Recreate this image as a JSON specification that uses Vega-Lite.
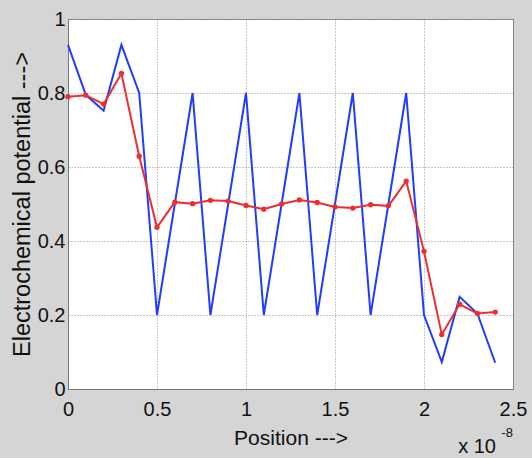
{
  "$schema": "https://vega.github.io/schema/vega-lite/v6.json",
  "autosize": "none",
  "padding": {"left": 68, "top": 19, "right": 19, "bottom": 69},
  "width": 445,
  "height": 370,
  "background": "#d5d5d5",
  "config": {
    "font": "Liberation Sans",
    "view": {"fill": "white", "stroke": "#8a8a8a", "strokeWidth": 1},
    "axis": {
      "labelFont": "Liberation Sans",
      "titleFont": "Liberation Sans",
      "labelFontSize": 20,
      "titleFontSize": 21,
      "titleFontWeight": "normal",
      "labelColor": "#111",
      "titleColor": "#111",
      "gridColor": "#777",
      "gridDash": [1, 2],
      "gridOpacity": 0.8,
      "domainColor": "#777",
      "tickColor": "#777",
      "ticks": false,
      "labelOverlap": false,
      "labelBound": false,
      "labelFlush": false
    }
  },
  "datasets": {
    "lines": [
      {"x": 0.0, "v": 0.93, "s": "blue"},
      {"x": 0.1, "v": 0.795, "s": "blue"},
      {"x": 0.2, "v": 0.752, "s": "blue"},
      {"x": 0.3, "v": 0.93, "s": "blue"},
      {"x": 0.4, "v": 0.80, "s": "blue"},
      {"x": 0.5, "v": 0.20, "s": "blue"},
      {"x": 0.6, "v": 0.50, "s": "blue"},
      {"x": 0.7, "v": 0.80, "s": "blue"},
      {"x": 0.8, "v": 0.20, "s": "blue"},
      {"x": 0.9, "v": 0.50, "s": "blue"},
      {"x": 1.0, "v": 0.80, "s": "blue"},
      {"x": 1.1, "v": 0.20, "s": "blue"},
      {"x": 1.2, "v": 0.50, "s": "blue"},
      {"x": 1.3, "v": 0.80, "s": "blue"},
      {"x": 1.4, "v": 0.20, "s": "blue"},
      {"x": 1.5, "v": 0.50, "s": "blue"},
      {"x": 1.6, "v": 0.80, "s": "blue"},
      {"x": 1.7, "v": 0.20, "s": "blue"},
      {"x": 1.8, "v": 0.50, "s": "blue"},
      {"x": 1.9, "v": 0.80, "s": "blue"},
      {"x": 2.0, "v": 0.20, "s": "blue"},
      {"x": 2.1, "v": 0.073, "s": "blue"},
      {"x": 2.2, "v": 0.249, "s": "blue"},
      {"x": 2.3, "v": 0.204, "s": "blue"},
      {"x": 2.4, "v": 0.071, "s": "blue"},
      {"x": 0.0, "v": 0.79, "s": "red"},
      {"x": 0.1, "v": 0.794, "s": "red"},
      {"x": 0.2, "v": 0.77, "s": "red"},
      {"x": 0.3, "v": 0.853, "s": "red"},
      {"x": 0.4, "v": 0.629, "s": "red"},
      {"x": 0.5, "v": 0.437, "s": "red"},
      {"x": 0.6, "v": 0.505, "s": "red"},
      {"x": 0.7, "v": 0.501, "s": "red"},
      {"x": 0.8, "v": 0.51, "s": "red"},
      {"x": 0.9, "v": 0.508, "s": "red"},
      {"x": 1.0, "v": 0.496, "s": "red"},
      {"x": 1.1, "v": 0.486, "s": "red"},
      {"x": 1.2, "v": 0.50, "s": "red"},
      {"x": 1.3, "v": 0.511, "s": "red"},
      {"x": 1.4, "v": 0.504, "s": "red"},
      {"x": 1.5, "v": 0.492, "s": "red"},
      {"x": 1.6, "v": 0.489, "s": "red"},
      {"x": 1.7, "v": 0.498, "s": "red"},
      {"x": 1.8, "v": 0.495, "s": "red"},
      {"x": 1.9, "v": 0.562, "s": "red"},
      {"x": 2.0, "v": 0.372, "s": "red"},
      {"x": 2.1, "v": 0.147, "s": "red"},
      {"x": 2.2, "v": 0.229, "s": "red"},
      {"x": 2.3, "v": 0.204, "s": "red"},
      {"x": 2.4, "v": 0.208, "s": "red"}
    ],
    "notes": [
      {"x": 2.5, "v": 0, "t": "x 10", "k": "base"},
      {"x": 2.5, "v": 0, "t": "-8", "k": "exp"}
    ]
  },
  "data": {"name": "lines"},
  "encoding": {
    "x": {
      "field": "x", "type": "quantitative",
      "scale": {"domain": [0, 2.5], "nice": false, "zero": false},
      "axis": {"values": [0, 0.5, 1, 1.5, 2, 2.5], "format": "~g", "title": "Position --->", "labelPadding": 10, "titlePadding": 8}
    },
    "y": {
      "field": "v", "type": "quantitative",
      "scale": {"domain": [0, 1], "nice": false},
      "axis": {"values": [0, 0.2, 0.4, 0.6, 0.8, 1], "format": "~g", "title": "Electrochemical potential --->", "titleFontSize": 23.5, "labelPadding": 3, "titlePadding": 3}
    }
  },
  "layer": [
    {
      "transform": [{"filter": "datum.s === 'blue'"}],
      "mark": {"type": "line", "color": "#1f3cff", "strokeWidth": 2}
    },
    {
      "transform": [{"filter": "datum.s === 'red'"}],
      "mark": {"type": "line", "color": "#ee2e2e", "strokeWidth": 2}
    },
    {
      "transform": [{"filter": "datum.s === 'red'"}],
      "mark": {"type": "point", "filled": true, "color": "#ee2e2e", "size": 28, "opacity": 1}
    },
    {
      "data": {"name": "notes"},
      "transform": [{"filter": "datum.k === 'base'"}],
      "mark": {"type": "text", "align": "right", "baseline": "alphabetic", "fontSize": 20, "color": "#111", "dx": -17, "dy": 64, "clip": false},
      "encoding": {"text": {"field": "t", "type": "nominal"}}
    },
    {
      "data": {"name": "notes"},
      "transform": [{"filter": "datum.k === 'exp'"}],
      "mark": {"type": "text", "align": "right", "baseline": "alphabetic", "fontSize": 13, "color": "#111", "dx": 0, "dy": 48, "clip": false},
      "encoding": {"text": {"field": "t", "type": "nominal"}}
    }
  ]
}
